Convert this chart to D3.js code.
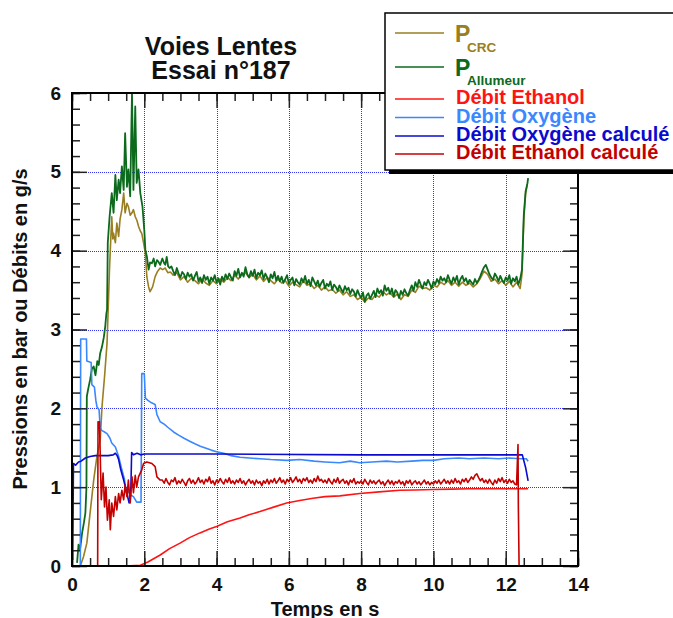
<!DOCTYPE html>
<html>
<head>
<meta charset="utf-8">
<script src="https://cdnjs.cloudflare.com/ajax/libs/d3/7.8.5/d3.min.js"></script>
<style>
  body { margin: 0; background: #fff; }
  svg { display: block; font-family: "Liberation Sans", Arial, sans-serif; font-weight: bold; }
</style>
</head>
<body>
<svg id="chart" width="673" height="618"></svg>
<script>
// axis ticks
var xMajorTicks = [0, 2, 4, 6, 8, 10, 12, 14];
var yMajorTicks = [0, 1, 2, 3, 4, 5, 6];
var xGridValues = [2, 4, 6, 8, 10, 12];
var yGridValues = [1, 2, 3, 4, 5];

// P CRC : start, plateau sampled every 0.1 s from 2.8 s, end
var pCrcStart = [[0.23,0],[0.32,0.12],[0.41,0.29],[0.50,0.67],[0.60,1.09],[0.69,1.39],[0.78,1.60],[0.83,2.02],[0.90,2.40],
  [0.97,2.83],[1.01,3.38],[1.04,3.80],[1.06,4.01],[1.10,4.43],[1.13,4.15],[1.15,4.22],[1.20,4.10],[1.24,4.35],[1.29,4.18],
  [1.33,4.40],[1.38,4.52],[1.43,4.73],[1.47,4.48],[1.52,4.60],[1.56,4.56],[1.61,4.45],[1.66,4.48],[1.70,4.52],[1.75,4.43],
  [1.80,4.38],[1.84,4.31],[1.89,4.25],[1.93,4.22],[1.98,4.10],[2.03,3.97],[2.07,3.67],[2.12,3.54],[2.16,3.48],[2.23,3.54],
  [2.30,3.67],[2.37,3.74],[2.44,3.78],[2.51,3.76],[2.58,3.78],[2.65,3.72],[2.72,3.73]];
var pCrcPlateau = [
  3.69,3.72,3.63,3.67,3.60,3.65,3.62,3.58,3.64,3.59,
  3.56,3.62,3.58,3.64,3.60,3.66,3.62,3.69,3.64,3.70,
  3.72,3.66,3.70,3.63,3.68,3.61,3.66,3.62,3.58,3.64,
  3.59,3.62,3.55,3.60,3.57,3.54,3.62,3.56,3.58,3.52,
  3.56,3.50,3.54,3.49,3.51,3.46,3.50,3.44,3.48,3.42,
  3.44,3.38,3.41,3.35,3.40,3.38,3.44,3.41,3.48,3.44,
  3.47,3.41,3.45,3.38,3.44,3.42,3.50,3.47,3.55,3.52,
  3.53,3.50,3.56,3.54,3.60,3.57,3.62,3.56,3.60,3.55,
  3.60,3.56,3.59,3.54,3.58,3.65,3.74,3.70,3.61,3.64,
  3.58,3.62,3.56,3.61,3.54,3.60,3.52];
var pCrcEnd = [[12.45,3.70],[12.50,4.40],[12.55,4.72],[12.60,4.85]];

// P Allumeur : start, plateau sampled every 0.05 s from 2.8 s, end
var pAllStart = [[0.14,0.04],[0.18,0.27],[0.22,0.20],[0.28,0.42],[0.33,0.55],[0.37,0.67],[0.40,1.00],[0.41,2.15],[0.45,2.25],
  [0.50,2.36],[0.55,2.50],[0.60,2.53],[0.65,2.42],[0.70,2.60],[0.74,2.55],[0.78,2.70],[0.83,2.78],[0.88,2.90],[0.92,3.04],
  [0.95,3.20],[0.97,3.25],[0.99,4.10],[1.04,4.43],[1.10,4.73],[1.15,4.48],[1.20,4.96],[1.24,4.64],[1.29,4.90],[1.33,4.73],
  [1.38,5.07],[1.43,4.77],[1.47,5.49],[1.52,4.81],[1.56,5.03],[1.61,4.69],[1.66,6.00],[1.70,4.77],[1.75,5.83],[1.79,4.86],
  [1.84,5.03],[1.89,4.73],[1.95,4.56],[2.00,4.26],[2.03,4.01],[2.07,3.93],[2.12,3.76],[2.16,3.85],[2.21,3.84],[2.26,3.90],
  [2.30,3.80],[2.35,3.88],[2.39,3.86],[2.44,3.82],[2.50,3.90],[2.55,3.84],[2.58,3.82],[2.62,3.92],[2.66,3.80],[2.70,3.78],
  [2.75,3.80]];
var pAllPlateau = [
  3.74,3.69,3.78,3.71,3.66,3.73,3.70,3.64,3.72,3.67,
  3.70,3.62,3.68,3.73,3.61,3.66,3.59,3.69,3.63,3.67,
  3.58,3.66,3.62,3.69,3.60,3.65,3.57,3.67,3.62,3.70,
  3.64,3.71,3.66,3.62,3.74,3.68,3.77,3.66,3.72,3.67,
  3.79,3.70,3.66,3.74,3.68,3.76,3.65,3.72,3.69,3.75,
  3.64,3.71,3.66,3.60,3.70,3.65,3.73,3.62,3.68,3.61,
  3.67,3.59,3.64,3.69,3.58,3.63,3.66,3.56,3.64,3.60,
  3.57,3.65,3.60,3.68,3.58,3.63,3.55,3.66,3.61,3.56,
  3.62,3.54,3.59,3.63,3.52,3.58,3.55,3.61,3.50,3.57,
  3.54,3.49,3.56,3.51,3.47,3.55,3.50,3.53,3.45,3.51,
  3.48,3.42,3.50,3.44,3.40,3.47,3.35,3.43,3.46,3.39,
  3.44,3.49,3.41,3.52,3.46,3.50,3.43,3.56,3.49,3.53,
  3.45,3.52,3.42,3.50,3.47,3.40,3.49,3.44,3.51,3.46,
  3.43,3.50,3.56,3.49,3.60,3.54,3.63,3.57,3.52,3.60,
  3.56,3.63,3.58,3.52,3.61,3.57,3.64,3.59,3.67,3.62,
  3.65,3.60,3.69,3.63,3.58,3.66,3.61,3.68,3.57,3.64,
  3.68,3.61,3.65,3.58,3.63,3.60,3.57,3.64,3.59,3.63,
  3.68,3.74,3.79,3.82,3.76,3.70,3.66,3.63,3.71,3.67,
  3.61,3.68,3.63,3.59,3.66,3.62,3.69,3.58,3.65,3.61,
  3.67,3.57,3.64];
var pAllEnd = [[12.45,3.76],[12.50,4.45],[12.55,4.75],[12.60,4.85],[12.62,4.92]];

// Debit Ethanol (mesure)
var debitEthanol = [[1.47,0],[1.89,0.01],[2.10,0.05],[2.44,0.14],[2.70,0.22],[2.99,0.29],[3.25,0.36],[3.54,0.42],[3.80,0.47],
  [4.00,0.50],[4.30,0.56],[4.65,0.61],[4.90,0.65],[5.20,0.69],[5.60,0.75],[5.94,0.80],[6.30,0.83],[6.67,0.86],[7.00,0.88],
  [7.41,0.89],[7.96,0.92],[8.50,0.94],[9.07,0.96],[9.50,0.965],[9.99,0.97],[10.50,0.975],[11.00,0.98],[11.83,0.98],[12.62,0.98]];

// Debit Oxygene (mesure)
var debitOxygene = [[0.23,0],[0.24,2.88],[0.40,2.88],[0.41,2.60],[0.53,2.58],[0.55,2.30],[0.62,2.27],[0.66,2.10],[0.69,2.02],
  [0.75,1.98],[0.78,1.75],[0.82,1.72],[0.90,1.70],[0.97,1.68],[1.05,1.62],[1.10,1.56],[1.20,1.51],[1.29,1.39],[1.38,1.22],
  [1.45,1.10],[1.50,0.93],[1.55,0.95],[1.62,0.90],[1.70,0.88],[1.79,0.81],[1.91,0.81],[1.93,2.44],[2.00,2.44],[2.03,2.13],
  [2.10,2.10],[2.20,2.07],[2.30,2.05],[2.35,1.92],[2.44,1.83],[2.55,1.80],[2.65,1.76],[2.81,1.70],[2.95,1.66],[3.10,1.62],
  [3.27,1.58],[3.40,1.55],[3.55,1.52],[3.73,1.49],[3.85,1.47],[4.00,1.45],[4.20,1.43],[4.40,1.40],[4.65,1.38],[4.90,1.37],
  [5.20,1.36],[5.50,1.35],[5.94,1.34],[6.30,1.35],[6.70,1.33],[7.00,1.32],[7.40,1.31],[7.70,1.33],[7.96,1.31],[8.30,1.32],
  [8.70,1.33],[9.00,1.32],[9.40,1.33],[9.70,1.34],[10.00,1.34],[10.30,1.36],[10.70,1.37],[11.00,1.36],[11.40,1.37],
  [11.80,1.36],[12.10,1.37],[12.40,1.36],[12.57,1.36],[12.62,1.33]];

// Debit Oxygene calcule
var oxygeneCalc = [[0.02,0.08],[0.04,1.30],[0.10,1.28],[0.18,1.32],[0.25,1.33],[0.37,1.37],[0.50,1.39],[0.64,1.40],
  [0.80,1.40],[1.00,1.40],[1.14,1.41],[1.20,1.43],[1.25,1.40],[1.29,1.35],[1.35,1.22],[1.43,1.09],[1.52,0.92],[1.58,0.80],
  [1.61,0.83],[1.63,1.00],[1.65,1.44],[1.70,1.41],[1.80,1.43],[1.90,1.41],[2.00,1.42],[4.00,1.42],[8.00,1.41],
  [12.46,1.41],[12.55,1.25],[12.62,1.08]];

// Debit Ethanol calcule : start, plateau every 0.05 s from 2.5 s, end
var ethanolCalcStart = [[0.71,0],[0.72,1.83],[0.76,1.83],[0.81,0.84],[0.86,1.18],[0.90,0.75],[0.94,1.00],[0.98,0.58],
  [1.03,0.84],[1.06,0.46],[1.10,0.80],[1.15,0.63],[1.20,0.88],[1.24,0.71],[1.29,0.92],[1.33,0.80],[1.38,0.96],[1.43,0.84],
  [1.47,1.03],[1.52,0.88],[1.56,1.09],[1.61,0.80],[1.66,1.13],[1.70,0.93],[1.75,1.15],[1.79,1.00],[1.84,1.13],[1.93,1.22],
  [1.98,1.30],[2.07,1.32],[2.21,1.30],[2.30,1.26],[2.35,1.13],[2.44,1.09]];
var ethanolCalcPlateau = [
  1.09,1.05,1.11,1.06,1.03,1.09,1.07,1.12,1.04,1.08,
  1.05,1.10,1.06,1.02,1.08,1.11,1.05,1.09,1.04,1.07,
  1.12,1.06,1.09,1.04,1.10,1.07,1.13,1.05,1.08,1.03,
  1.09,1.06,1.11,1.07,1.04,1.10,1.06,1.12,1.05,1.08,
  1.04,1.09,1.06,1.11,1.05,1.08,1.03,1.07,1.10,1.05,
  1.08,1.03,1.09,1.05,1.07,1.02,1.08,1.05,1.10,1.04,
  1.09,1.06,1.11,1.05,1.08,1.12,1.06,1.09,1.04,1.10,
  1.07,1.12,1.06,1.09,1.13,1.07,1.10,1.05,1.11,1.08,
  1.12,1.06,1.09,1.05,1.11,1.07,1.14,1.08,1.10,1.06,
  1.09,1.05,1.11,1.07,1.04,1.10,1.06,1.12,1.05,1.08,
  1.10,1.05,1.08,1.03,1.09,1.06,1.11,1.04,1.07,1.05,
  1.08,1.04,1.10,1.06,1.03,1.09,1.05,1.08,1.04,1.07,
  1.09,1.04,1.07,1.02,1.06,1.09,1.04,1.08,1.03,1.07,
  1.05,1.09,1.04,1.07,1.02,1.08,1.05,1.09,1.03,1.06,
  1.08,1.04,1.07,1.03,1.06,1.09,1.04,1.07,1.03,1.06,
  1.04,1.08,1.05,1.09,1.04,1.07,1.10,1.05,1.08,1.04,
  1.09,1.05,1.11,1.06,1.08,1.04,1.10,1.07,1.11,1.06,
  1.09,1.13,1.10,1.15,1.17,1.12,1.08,1.11,1.06,1.09,
  1.05,1.10,1.06,1.03,1.09,1.05,1.11,1.07,1.12,1.06,
  1.09,1.05,1.10,1.06,1.08,1.04,1.03];
var ethanolCalcEnd = [[12.34,1.54],[12.35,0.75],[12.37,0]];

var seriesNames = ["P CRC", "P Allumeur", "Débit Ethanol", "Débit Oxygène", "Débit Oxygène calculé", "Débit Ethanol calculé"];
var seriesColors = ["#9a7e22", "#0b6a1c", "#ff1414", "#3a88ff", "#0a0ad0", "#c40000"];

function sampled(values, t0, dt) {
  return values.map(function(v, i) { return [t0 + i * dt, v]; });
}

var seriesData = [
  pCrcStart.concat(sampled(pCrcPlateau, 2.8, 0.1), pCrcEnd),
  pAllStart.concat(sampled(pAllPlateau, 2.8, 0.05), pAllEnd),
  debitEthanol,
  debitOxygene,
  oxygeneCalc,
  ethanolCalcStart.concat(sampled(ethanolCalcPlateau, 2.5, 0.05), ethanolCalcEnd)
];

var svg = d3.select("#chart");

var plotLeft = 72, plotRight = 578, plotTop = 93, plotBottom = 566;
var x = d3.scaleLinear().domain([0, 14]).range([plotLeft, plotRight]);
var y = d3.scaleLinear().domain([0, 6]).range([plotBottom, plotTop]);

svg.append("defs").append("clipPath").attr("id", "plotclip")
  .append("rect").attr("x", plotLeft).attr("y", plotTop)
  .attr("width", plotRight - plotLeft).attr("height", plotBottom - plotTop);

// grid
var grid = svg.append("g").attr("stroke", "#3030ff").attr("stroke-width", 1).attr("stroke-dasharray", "1,1");
grid.selectAll(".vg").data(xGridValues).enter().append("line")
  .attr("x1", function(d) { return Math.round(x(d)) + 0.5; }).attr("x2", function(d) { return Math.round(x(d)) + 0.5; })
  .attr("y1", plotTop).attr("y2", plotBottom);
grid.selectAll(".hg").data(yGridValues).enter().append("line")
  .attr("y1", function(d) { return Math.round(y(d)) + 0.5; }).attr("y2", function(d) { return Math.round(y(d)) + 0.5; })
  .attr("x1", plotLeft).attr("x2", plotRight);

// series
var line = d3.line()
  .x(function(d) { return x(d[0]); })
  .y(function(d) { return y(d[1]); });

svg.append("g").attr("clip-path", "url(#plotclip)")
  .selectAll("path").data(seriesData).enter().append("path")
  .attr("d", line)
  .attr("fill", "none")
  .attr("stroke", function(d, i) { return seriesColors[i]; })
  .attr("stroke-width", function(d, i) { return i === 1 ? 1.8 : 1.6; })
  .attr("stroke-linejoin", "round");

// ticks on four sides, pointing inward
function styleAxis(g) {
  g.select(".domain").remove();
  g.selectAll(".tick line").attr("stroke", "#222").attr("stroke-width", 1.5);
}
var xMinor = d3.range(0, 14.01, 0.5);
var yMinor = d3.range(0, 6.01, 0.2);

svg.append("g").attr("transform", "translate(0," + plotBottom + ")")
  .call(d3.axisBottom(x).tickValues(xMinor).tickSize(-8).tickFormat("")).call(styleAxis);
svg.append("g").attr("transform", "translate(0," + plotTop + ")")
  .call(d3.axisTop(x).tickValues(xMinor).tickSize(-8).tickFormat("")).call(styleAxis);
svg.append("g").attr("transform", "translate(" + plotLeft + ",0)")
  .call(d3.axisLeft(y).tickValues(yMinor).tickSize(-8).tickFormat("")).call(styleAxis);
svg.append("g").attr("transform", "translate(" + plotRight + ",0)")
  .call(d3.axisRight(y).tickValues(yMinor).tickSize(-8).tickFormat("")).call(styleAxis);

var xAxis = svg.append("g").attr("transform", "translate(0," + plotBottom + ")")
  .call(d3.axisBottom(x).tickValues(xMajorTicks).tickSize(-15).tickPadding(12).tickFormat(d3.format("d"))).call(styleAxis);
svg.append("g").attr("transform", "translate(0," + plotTop + ")")
  .call(d3.axisTop(x).tickValues(xMajorTicks).tickSize(-15).tickFormat("")).call(styleAxis);
var yAxis = svg.append("g").attr("transform", "translate(" + plotLeft + ",0)")
  .call(d3.axisLeft(y).tickValues(yMajorTicks).tickSize(-15).tickPadding(11).tickFormat(d3.format("d"))).call(styleAxis);
svg.append("g").attr("transform", "translate(" + plotRight + ",0)")
  .call(d3.axisRight(y).tickValues(yMajorTicks).tickSize(-15).tickFormat("")).call(styleAxis);

[xAxis, yAxis].forEach(function(a) {
  a.selectAll("text").attr("font-size", 19).attr("font-weight", "bold")
    .attr("font-family", "'Liberation Sans', Arial, sans-serif").attr("fill", "#111");
});

// frame
svg.append("rect").attr("x", plotLeft).attr("y", plotTop)
  .attr("width", plotRight - plotLeft).attr("height", plotBottom - plotTop)
  .attr("fill", "none").attr("stroke", "#000").attr("stroke-width", 2);

// titles
svg.append("text").attr("x", 221).attr("y", 55).attr("text-anchor", "middle").attr("font-size", 25).attr("fill", "#111")
  .text("Voies Lentes");
svg.append("text").attr("x", 221).attr("y", 79).attr("text-anchor", "middle").attr("font-size", 25).attr("fill", "#111")
  .text("Essai n°187");
svg.append("text").attr("x", 325).attr("y", 616).attr("text-anchor", "middle").attr("font-size", 20).attr("fill", "#111")
  .text("Temps en s");
svg.append("text").attr("transform", "translate(27,329) rotate(-90)").attr("text-anchor", "middle")
  .attr("font-size", 20).attr("fill", "#111")
  .text("Pressions en bar ou Débits en g/s");

// legend
var legend = svg.append("g");
legend.append("rect").attr("x", 389).attr("y", 17).attr("width", 300).attr("height", 157).attr("fill", "#000");
legend.append("rect").attr("x", 385).attr("y", 13).attr("width", 300).attr("height", 157)
  .attr("fill", "#fff").attr("stroke", "#000").attr("stroke-width", 1.5);

var legendRowY = [33, 67, 99, 117.5, 136, 154];
seriesNames.forEach(function(name, i) {
  legend.append("line").attr("x1", 395).attr("x2", 444)
    .attr("y1", legendRowY[i]).attr("y2", legendRowY[i])
    .attr("stroke", seriesColors[i]).attr("stroke-width", 1.5);
  if (i < 2) {
    legend.append("text").attr("x", 455).attr("y", legendRowY[i] + 9).attr("font-size", 23)
      .attr("fill", seriesColors[i]).text("P");
    legend.append("text").attr("x", 467).attr("y", legendRowY[i] + (i === 0 ? 19 : 18)).attr("font-size", 13.5)
      .attr("fill", seriesColors[i]).text(name.split(" ")[1]);
  } else {
    legend.append("text").attr("x", 456).attr("y", legendRowY[i] + 5).attr("font-size", 20)
      .attr("fill", seriesColors[i]).text(name);
  }
});
</script>
</body>
</html>
